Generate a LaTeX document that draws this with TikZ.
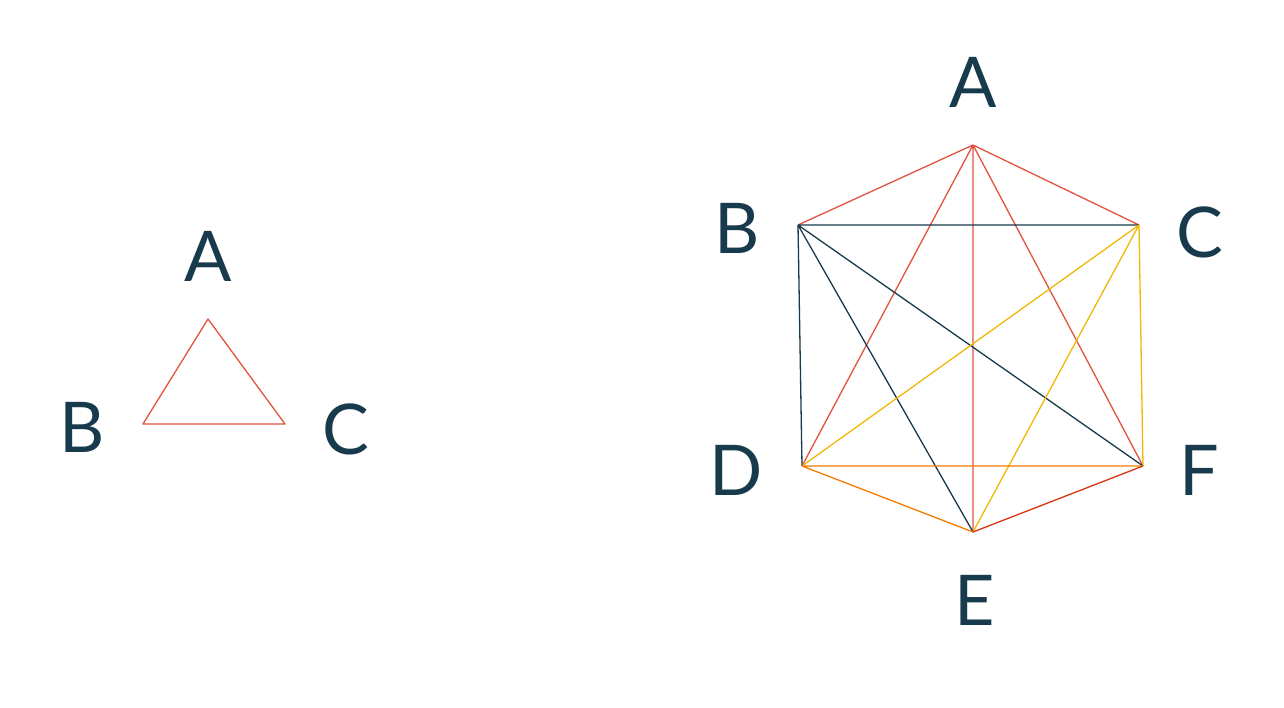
\documentclass[tikz,border=0pt]{standalone}
\usepackage{fontspec}
\setmainfont{Lato}
\definecolor{navy}{HTML}{173A4C}
\definecolor{redl}{HTML}{E2533F}
\definecolor{yel}{HTML}{F2B705}
\definecolor{org}{HTML}{F57C00}
\definecolor{redo}{HTML}{D9340F}
\begin{document}
\begin{tikzpicture}[x=1pt,y=-1pt,
  lab/.style={text=navy,font=\fontsize{70}{80}\selectfont,inner sep=0pt,anchor=center},
  pt/.style={inner sep=0pt,minimum size=0pt},
  e/.style={line width=1.3pt}]
\useasboundingbox (0,0) rectangle (1284,708);
% left triangle
\node[pt] (tA) at (208,319) {};
\node[pt] (tB) at (143,424) {};
\node[pt] (tC) at (285,424) {};
\node[lab] (ltA) at (208,256) {A};
\node[lab] (ltB) at (82,427) {B};
\node[lab] (ltC) at (346,429) {C};
\draw[e,redl,line join=round] (tA.center) -- (tB.center) -- (tC.center) -- cycle;
% hexagon
\node[pt] (A) at (973,145) {};
\node[pt] (B) at (798,225) {};
\node[pt] (C) at (1139,225) {};
\node[pt] (D) at (802,466) {};
\node[pt] (F) at (1143,466) {};
\node[pt] (E) at (973,532) {};
\node[lab] (lA) at (973,82) {A};
\node[lab] (lB) at (737,228) {B};
\node[lab] (lC) at (1200,232) {C};
\node[lab] (lD) at (736,470) {D};
\node[lab] (lF) at (1199,470) {F};
\node[lab] (lE) at (975,600) {E};
\draw[e,redl] (A.center) -- (B.center) (A.center) -- (C.center) (A.center) -- (D.center) (A.center) -- (F.center) (A.center) -- (E.center);
\draw[e,navy] (B.center) -- (C.center) (B.center) -- (D.center) (B.center) -- (E.center) (B.center) -- (F.center);
\draw[e,yel] (C.center) -- (D.center) (C.center) -- (E.center) (C.center) -- (F.center);
\draw[e,org] (D.center) -- (F.center) (D.center) -- (E.center);
\draw[e,redo] (E.center) -- (F.center);
\end{tikzpicture}
\end{document}
